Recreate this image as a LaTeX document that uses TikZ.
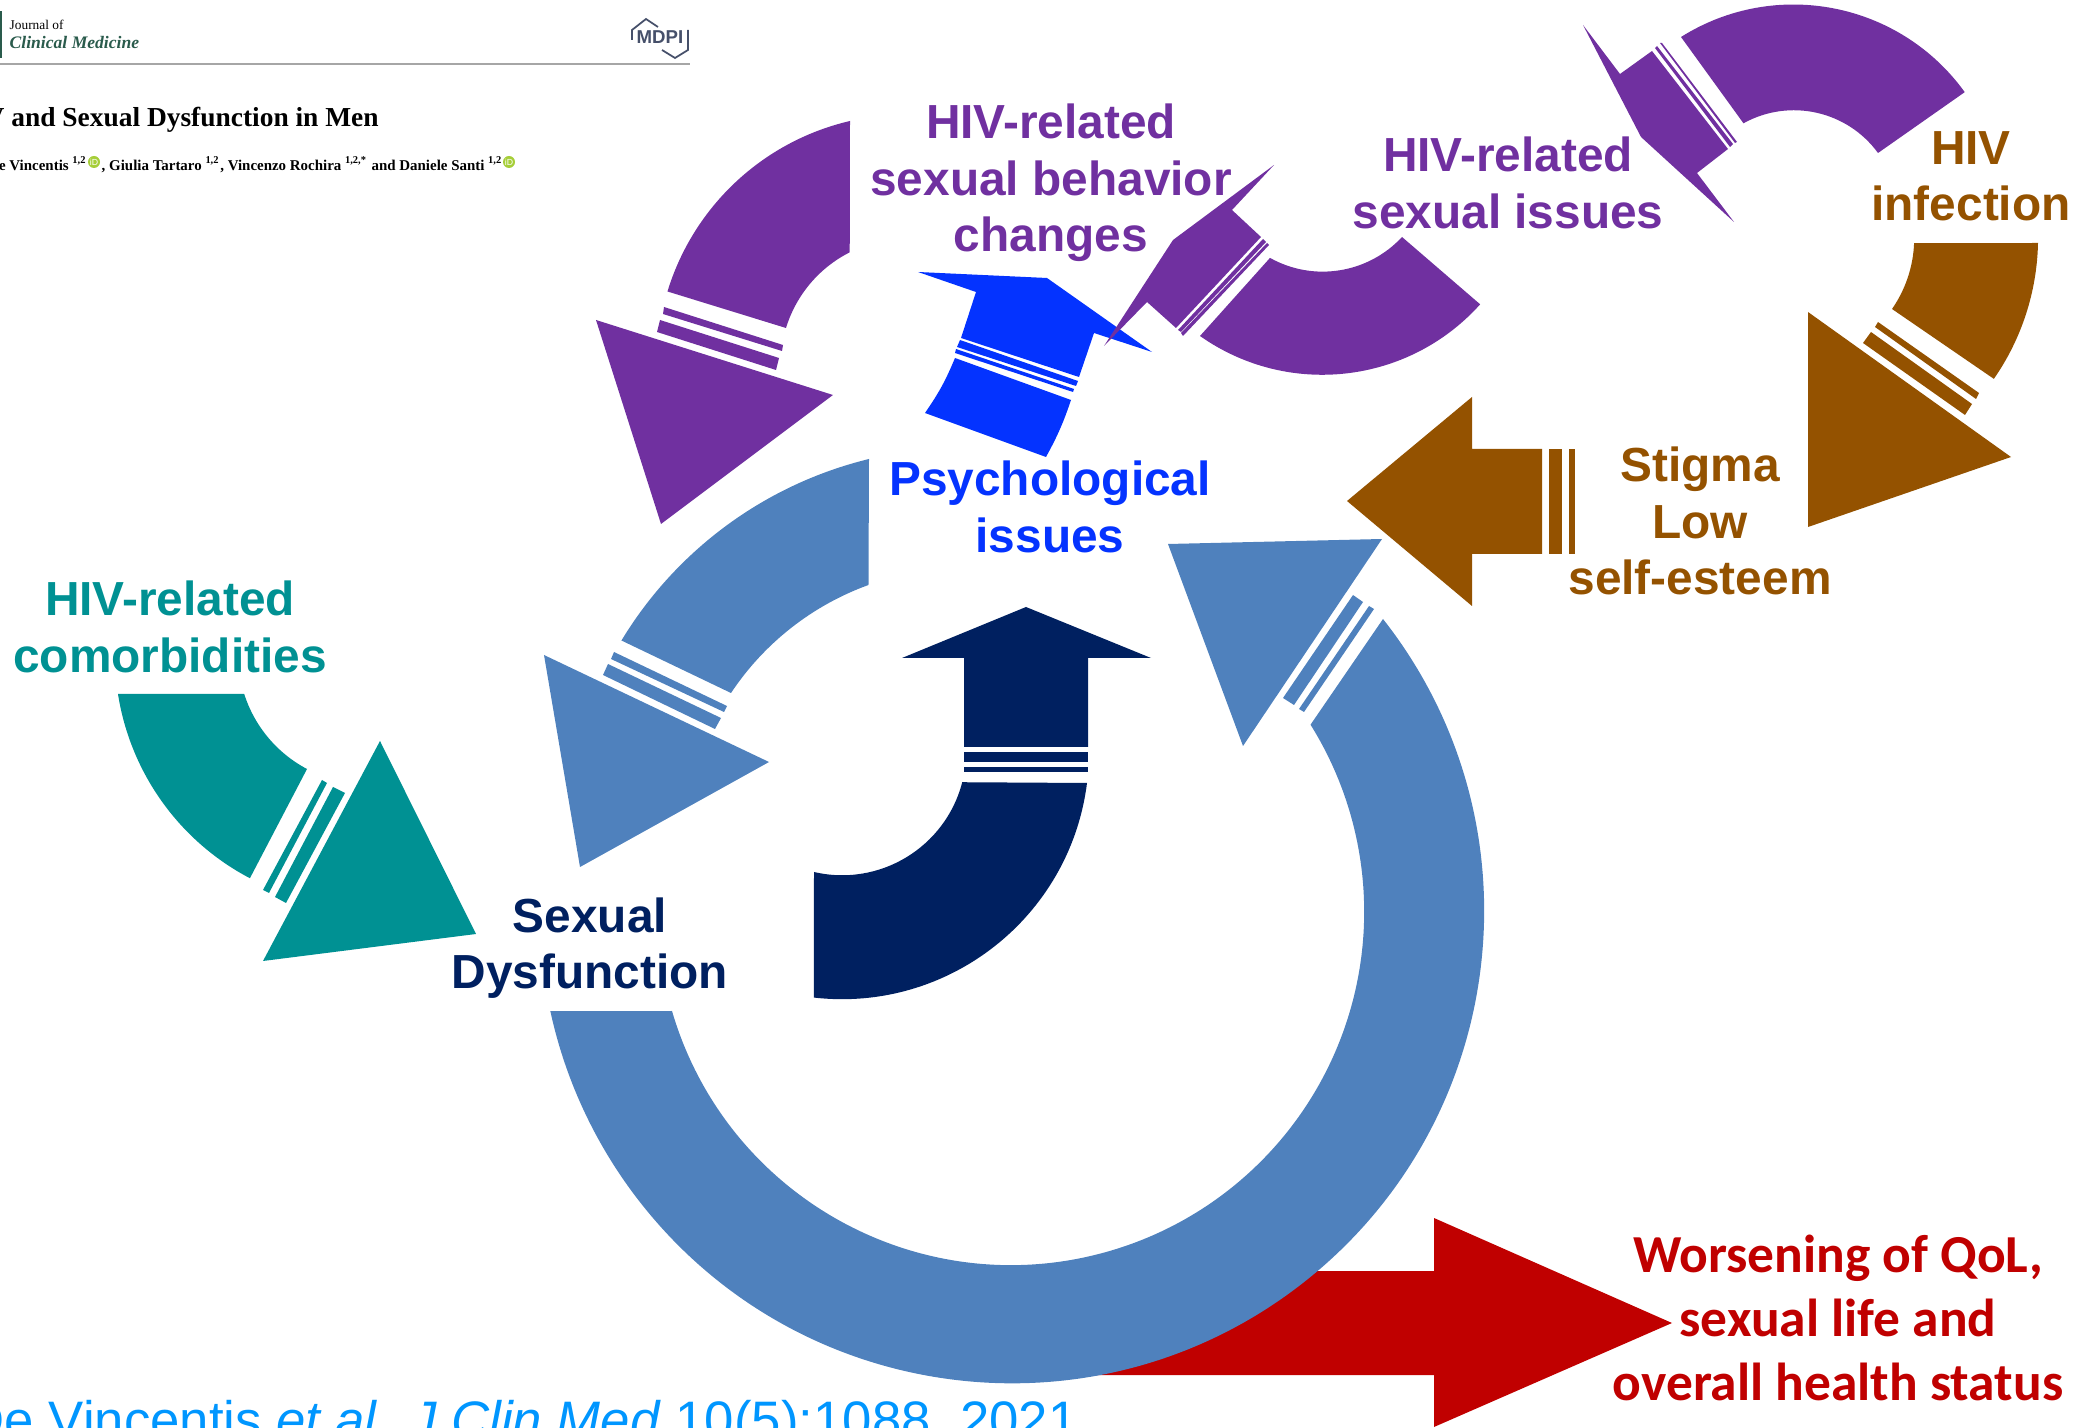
\documentclass[tikz,border=0pt]{standalone}
\usepackage{fontspec}
\setmainfont{Liberation Sans}
\newfontfamily\paperfont{Liberation Serif}
\newfontfamily\worsefont{Carlito}
\definecolor{ringblue}{HTML}{4F81BD}
\definecolor{behavpurple}{HTML}{7030A0}
\definecolor{psychblue}{HTML}{0433FF}
\definecolor{dysfnavy}{HTML}{002060}
\definecolor{comorbteal}{HTML}{009193}
\definecolor{stigmabrown}{HTML}{945200}
\definecolor{qolred}{HTML}{C00000}
\definecolor{citeblue}{HTML}{0096FF}
\definecolor{journalgreen}{HTML}{2A5B4C}
\definecolor{orcidgreen}{HTML}{A6CE39}
\definecolor{logogrey}{HTML}{46506A}
\tikzstyle{bigtext} = [
    font=\bfseries\fontsize{13.6}{16}\selectfont,
    align=center,
    inner sep=0pt
]
\tikzstyle{worsetext} = [
    font=\worsefont\bfseries\fontsize{15.2}{18.2}\selectfont,
    align=center,
    inner sep=0pt,
    text=qolred
]
\tikzstyle{papertext} = [
    font=\paperfont,
    anchor=base west,
    inner sep=0pt
]
\tikzstyle{orcid} = [
    circle,
    fill=orcidgreen,
    text=white,
    inner sep=0pt,
    minimum size=0.12cm,
    font=\fontsize{2.5}{3}\selectfont
]

\begin{document}
\begin{tikzpicture}[x=0.01cm, y=0.01cm]

\useasboundingbox (0,0) rectangle (2078,-1428);

\fill[journalgreen] (0,-11) rectangle (2,-58);
\fill[black!35] (0,-63.5) rectangle (690,-65.5);
\node[papertext, font=\paperfont\fontsize{3.8}{4}\selectfont] (journal) at (9,-30) {Journal of};
\node[papertext, text=journalgreen, font=\paperfont\bfseries\itshape\fontsize{5}{6}\selectfont] (clinical) at (9,-49) {Clinical Medicine};
\node[inner sep=0pt, text=logogrey, font=\bfseries\fontsize{5.3}{6}\selectfont] (mdpi) at (660,-37) {MDPI};
\draw[logogrey, line width=0.5pt] (632,-40) -- (632,-30) -- (646,-19) -- (658,-27);
\draw[logogrey, line width=0.5pt] (688,-30) -- (688,-50) -- (675,-58) -- (662,-50);
\node[papertext, font=\paperfont\bfseries\fontsize{7.8}{9}\selectfont] (title) at (-16,-127) {V and Sexual Dysfunction in Men};
\node[papertext, anchor=base east, font=\paperfont\bfseries\fontsize{4.25}{5}\selectfont] (authora) at (88,-171) {De Vincentis \textsuperscript{1,2}};
\node[orcid] (orcidone) at (94,-162) {iD};
\node[papertext, font=\paperfont\bfseries\fontsize{4.25}{5}\selectfont] (authorb) at (101,-171) {, Giulia Tartaro \textsuperscript{1,2}, Vincenzo Rochira \textsuperscript{1,2,*} and Daniele Santi \textsuperscript{1,2}};
\node[orcid] (orcidtwo) at (509,-162) {iD};

\fill[qolred] (1080,-1271) -- (1434,-1271) -- (1434,-1218) -- (1672,-1323) -- (1434,-1427) -- (1434,-1375) -- (1080,-1375) -- cycle;

\fill[ringblue] (1383,-619) arc [start angle=38.2, end angle=-167.75, radius=4.72cm] -- (672,-1011) arc [start angle=-163.7, end angle=32, radius=3.53cm] -- cycle;
\fill[ringblue] (1369,-606) -- (1374,-609) -- (1304,-712) -- (1299,-709) -- cycle;
\fill[ringblue] (1353,-595) -- (1363,-602) -- (1294,-705) -- (1283,-698) -- cycle;
\fill[ringblue] (1168,-544) -- (1382,-539) -- (1243,-746) -- cycle;

\fill[ringblue] (869,-459) arc [start angle=103.7, end angle=148.8, radius=4cm] -- (731,-693) arc [start angle=146.4, end angle=109.9, radius=2.79cm] -- cycle;
\fill[ringblue] (614,-652) -- (727,-706) -- (724,-712) -- (611,-659) -- cycle;
\fill[ringblue] (608,-664) -- (721,-718) -- (715,-729) -- (603,-675) -- cycle;
\fill[ringblue] (544,-655) -- (769,-762) -- (580,-867) -- cycle;

\fill[dysfnavy] (1087,-783) arc [start angle=-7.2, end angle=-96.5, radius=2.47cm] -- (814,-872) arc [start angle=-103.1, end angle=-14.5, radius=1.24cm] -- cycle;
\fill[dysfnavy] (964,-767) rectangle (1088,-772);
\fill[dysfnavy] (964,-752) rectangle (1088,-762);
\fill[dysfnavy] (1026,-607) -- (1151,-658) -- (1088,-658) -- (1088,-747) -- (964,-747) -- (964,-658) -- (902,-658) -- cycle;

\fill[comorbteal] (118,-694) arc [start angle=188.9, end angle=242.3, radius=2.52cm] -- (307,-769) arc [start angle=242.2, end angle=197.6, radius=1.29cm] -- cycle;
\fill[comorbteal] (322,-780) -- (327,-783) -- (269,-893) -- (263,-890) -- cycle;
\fill[comorbteal] (333,-787) -- (345,-793) -- (286,-903) -- (275,-897) -- cycle;
\fill[comorbteal] (380,-741) -- (476,-934) -- (263,-961) -- cycle;

\fill[behavpurple] (850,-121) arc [start angle=103.1, end angle=163, radius=2.5cm] -- (786,-328) arc [start angle=163, end angle=116.8, radius=1.26cm] -- cycle;
\fill[behavpurple] (664,-307) -- (783,-345) -- (782,-351) -- (663,-314) -- cycle;
\fill[behavpurple] (660,-320) -- (779,-358) -- (776,-370) -- (657,-332) -- cycle;
\fill[behavpurple] (596,-320) -- (833,-395) -- (661,-524) -- cycle;

\fill[psychblue] (918,-272) -- (1047,-278) -- (1152,-352) -- (1094,-333) -- (1079,-377) -- (961,-338) -- (976,-292) -- cycle;
\fill[psychblue] (960,-340) -- (1078,-381) -- (1076,-386) -- (957,-347) -- cycle;
\fill[psychblue] (956,-349) -- (1074,-389) -- (1073,-392) -- (955,-353) -- cycle;
\fill[psychblue] (955,-358) -- (1071,-400) to[bend left=5] (1046,-457) -- (925,-413) to[bend right=6] cycle;

\fill[behavpurple] (1200,-336) arc [start angle=234.8, end angle=318.1, radius=2.12cm] -- (1402,-237) arc [start angle=317.2, end angle=240.8, radius=1.08cm] -- cycle;
\fill[behavpurple] (1263,-239) -- (1266,-242) -- (1181,-332) -- (1178,-330) -- cycle;
\fill[behavpurple] (1267,-243) -- (1269,-245) -- (1183,-336) -- (1181,-333) -- cycle;
\fill[behavpurple] (1274,-165) -- (1232,-210) -- (1261,-237) -- (1176,-328) -- (1147,-302) -- (1104,-346) -- (1173,-240) -- cycle;

\fill[behavpurple] (1681,-37) arc [start angle=122.2, end angle=35.8, radius=2.11cm] -- (1878,-153) arc [start angle=36.1, end angle=119, radius=1.04cm] -- cycle;
\fill[behavpurple] (1655,-48) -- (1657,-46) -- (1733,-144) -- (1730,-147) -- cycle;
\fill[behavpurple] (1660,-43) -- (1662,-43) -- (1737,-142) -- (1735,-143) -- cycle;
\fill[behavpurple] (1583,-25) -- (1620,-74) -- (1652,-51) -- (1728,-149) -- (1697,-173) -- (1734,-222) -- (1641,-137) -- cycle;

\fill[stigmabrown] (2038,-243) arc [start angle=-1.2, end angle=-34.8, radius=2.47cm] -- (1892,-309) arc [start angle=-34.8, end angle=-2.3, radius=1.24cm] -- cycle;
\fill[stigmabrown] (1878,-322) -- (1979,-393) -- (1976,-399) -- (1875,-327) -- cycle;
\fill[stigmabrown] (1871,-332) -- (1972,-404) -- (1965,-415) -- (1863,-343) -- cycle;
\fill[stigmabrown] (1808,-312) -- (2011,-457) -- (1808,-527) -- cycle;

\fill[stigmabrown] (1569,-449) rectangle (1575,-554);
\fill[stigmabrown] (1549,-449) rectangle (1562,-554);
\fill[stigmabrown] (1347,-501) -- (1472,-397) -- (1472,-449) -- (1542,-449) -- (1542,-554) -- (1472,-554) -- (1472,-606) -- cycle;

\node[bigtext, text=behavpurple] (behaviorlabel) at (1051,-183) {HIV-related\\sexual behavior\\changes};
\node[bigtext, text=behavpurple] (issueslabel) at (1508,-183) {HIV-related\\sexual issues};
\node[bigtext, text=stigmabrown] (infectionlabel) at (1971,-176) {HIV\\infection};
\node[bigtext, text=stigmabrown] (stigmalabel) at (1700,-521) {Stigma\\Low\\self-esteem};
\node[bigtext, text=psychblue] (psychlabel) at (1050,-507) {Psychological\\issues};
\node[bigtext, text=comorbteal] (comorblabel) at (170,-627) {HIV-related\\comorbidities};
\node[bigtext, text=dysfnavy] (dysflabel) at (590,-948) {Sexual\\Dysfunction};
\node[worsetext] (worselabel) at (1838,-1318) {Worsening of QoL,\\sexual life and\\overall health status};

\node[anchor=base west, inner sep=0pt, text=citeblue, font=\fontsize{15}{18}\selectfont] (citation) at (-34,-1438) {De Vincentis \textit{et al.} \textit{J Clin Med} 10(5):1088, 2021};

\end{tikzpicture}
\end{document}
